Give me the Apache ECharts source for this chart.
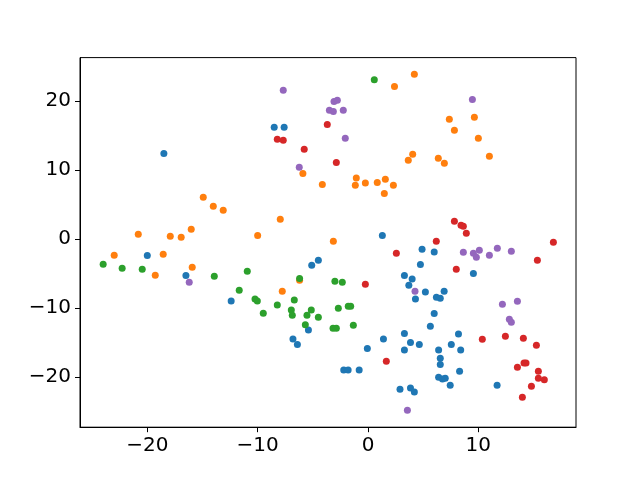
<!DOCTYPE html>
<html>
<head>
<meta charset="utf-8">
<script src="https://cdn.jsdelivr.net/npm/echarts@6/dist/echarts.min.js"></script>
<style>html,body{margin:0;padding:0;background:#fff;}#c{width:640px;height:480px;}</style>
</head>
<body>
<div id="c"></div>
<script>
const xTicks = [-20, -10, 0, 10];
const yTicks = [-20, -10, 0, 10, 20];

const blue = [[-18.5,12.4],[-8.5,16.2],[-7.6,16.2],[1.3,0.5],[-4.5,-3.1],[-5.1,-3.8],[3.3,-5.3],[4.0,-5.8],[3.7,-6.7],[4.3,-8.7],[-20.0,-2.4],[-16.5,-5.3],[-12.4,-9.0],[-5.4,-13.2],[-6.8,-14.5],[-6.4,-15.3],[-0.06,-15.9],[1.4,-14.5],[3.3,-13.7],[3.85,-15.0],[3.3,-16.1],[-2.2,-19.0],[-1.8,-19.0],[-0.8,-19.0],[2.9,-21.8],[3.85,-21.6],[4.2,-22.2],[6.2,-8.45],[6.55,-8.6],[6.0,-10.8],[5.65,-12.65],[8.2,-13.8],[4.65,-15.3],[7.55,-15.3],[6.4,-16.1],[8.4,-16.1],[6.55,-17.3],[6.55,-18.2],[8.3,-19.2],[6.4,-20.05],[6.75,-20.3],[7.0,-20.2],[7.45,-21.2],[11.7,-21.2],[4.9,-1.5],[6.0,-1.9],[4.75,-3.7],[9.55,-5.0],[5.2,-7.7],[6.9,-7.6]];
const orange = [[2.4,22.1],[4.2,23.9],[-5.9,9.5],[3.65,11.4],[4.05,12.3],[-1.06,8.84],[-0.24,8.1],[0.84,8.2],[1.57,8.65],[-4.14,7.9],[-1.15,7.77],[2.3,7.77],[1.48,6.6],[-7.95,2.85],[-10.0,0.5],[-3.14,-0.34],[-6.2,-6.0],[-7.77,-7.6],[7.37,17.35],[9.64,17.64],[7.83,15.75],[10.0,14.6],[6.37,11.69],[6.92,10.97],[11.0,11.98],[-14.93,6.04],[-14.02,4.73],[-13.12,4.15],[-20.82,0.68],[-17.92,0.39],[-16.93,0.25],[-16.02,1.4],[-23.0,-2.36],[-18.56,-2.22],[-15.93,-4.1],[-19.28,-5.27]];
const green = [[0.57,23.1],[-10.94,-4.7],[-6.2,-5.75],[-3.0,-6.14],[-2.33,-6.28],[-10.24,-8.7],[-10.03,-9.0],[-6.68,-8.87],[-8.22,-9.57],[-9.49,-10.77],[-6.95,-10.3],[-6.86,-11.06],[-5.14,-10.3],[-5.53,-11.06],[-4.5,-11.35],[-2.69,-10.05],[-1.79,-9.76],[-1.57,-9.76],[-5.68,-12.46],[-3.17,-12.95],[-2.87,-12.95],[-1.33,-12.5],[-24.0,-3.67],[-22.28,-4.25],[-20.46,-4.4],[-13.93,-5.41],[-11.67,-7.43]];
const red = [[-3.69,16.6],[-8.22,14.45],[-7.68,14.3],[-5.78,13.0],[-2.87,11.1],[2.57,-2.08],[-0.24,-6.57],[1.66,-17.73],[10.36,-14.54],[12.45,-14.1],[14.08,-14.39],[15.26,-15.41],[13.54,-18.6],[14.14,-18.0],[14.32,-18.0],[15.44,-19.17],[15.44,-20.19],[15.98,-20.43],[14.81,-21.35],[13.99,-22.94],[7.83,2.56],[8.43,1.98],[8.64,1.84],[8.91,0.82],[6.19,-0.34],[16.8,-0.48],[15.35,-3.09],[8.0,-4.4]];
const purple = [[-7.68,21.55],[-3.08,19.95],[-2.78,20.1],[-3.5,18.65],[-3.14,18.5],[-2.24,18.65],[-2.06,14.6],[-6.23,10.4],[4.26,-7.6],[3.57,-24.83],[12.18,-9.47],[13.54,-9.03],[12.81,-11.64],[12.99,-12.07],[9.46,20.24],[-16.2,-6.28],[8.64,-1.93],[9.55,-2.08],[9.82,-2.65],[10.09,-1.64],[11.0,-2.36],[11.72,-1.35],[12.99,-1.78]];

const groups = [
  {data: blue, color: '#1f77b4'},
  {data: orange, color: '#ff7f0e'},
  {data: green, color: '#2ca02c'},
  {data: red, color: '#d62728'},
  {data: purple, color: '#9467bd'}
];

const fmt = v => String(v).replace('-', '\u2212');
const labelStyle = {color: '#000', fontSize: 20, fontFamily: 'DejaVu Sans', formatter: fmt};

const chart = echarts.init(document.getElementById('c'), null, {renderer: 'canvas'});
chart.setOption({
  animation: false,
  backgroundColor: '#fff',
  grid: {left: 80, right: 64, top: 57.6, bottom: 52.8, show: true, borderColor: '#000', borderWidth: 1, backgroundColor: 'transparent'},
  xAxis: {
    type: 'value', min: -26.1, max: 18.85,
    splitLine: {show: false},
    axisLine: {show: true, onZero: false, lineStyle: {color: '#000', width: 1}},
    axisTick: {show: true, inside: false, length: 5, lineStyle: {color: '#000', width: 1}, customValues: xTicks},
    axisLabel: Object.assign({margin: 9, customValues: xTicks}, labelStyle)
  },
  yAxis: {
    type: 'value', min: -27.3, max: 26.3,
    splitLine: {show: false},
    axisLine: {show: true, onZero: false, lineStyle: {color: '#000', width: 1}},
    axisTick: {show: true, inside: false, length: 5, lineStyle: {color: '#000', width: 1}, customValues: yTicks},
    axisLabel: Object.assign({margin: 9, customValues: yTicks}, labelStyle)
  },
  series: groups.map(g => ({
    type: 'scatter',
    data: g.data,
    symbol: 'circle',
    symbolSize: 7,
    itemStyle: {color: g.color, opacity: 1},
    emphasis: {disabled: true},
    silent: true
  }))
});
</script>
</body>
</html>
